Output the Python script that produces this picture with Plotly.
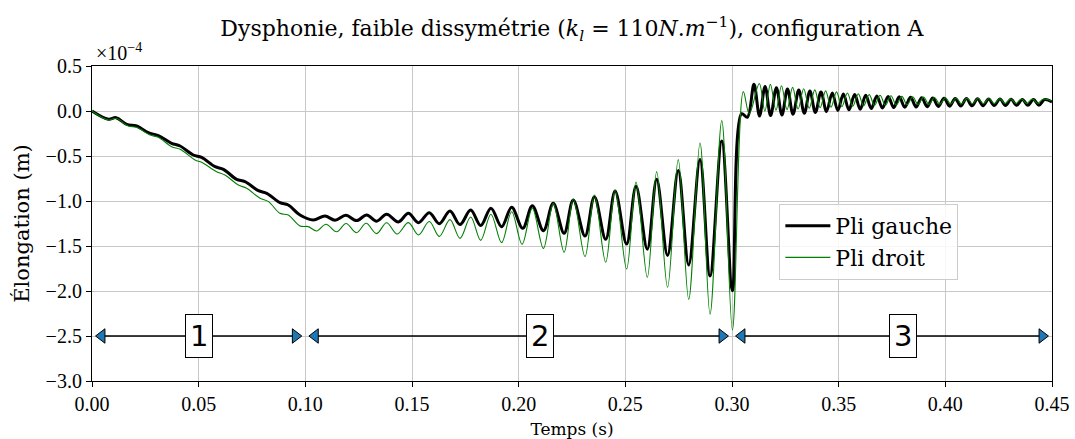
import plotly.graph_objects as go

# ---------------- data (values in units of 1e-4 m) ----------------
left_t = [
    0.0, 0.0077, 0.0113, 0.0163, 0.0209, 0.0264, 0.0311, 0.0373, 0.0413, 0.0475,
    0.0514, 0.0577, 0.0616, 0.0678, 0.0717, 0.0780, 0.0819, 0.0881, 0.0920, 0.0975,
    0.1037, 0.1092, 0.1139, 0.1190, 0.1240, 0.1288, 0.1334, 0.1381, 0.1436, 0.1483,
    0.1530, 0.1581, 0.1628, 0.1678, 0.1725, 0.1775, 0.1822, 0.1870, 0.1920, 0.1967,
    0.2019, 0.2064, 0.2116, 0.2162, 0.2213, 0.2256, 0.2311, 0.2355, 0.2408, 0.2452,
    0.2506, 0.2550, 0.2603, 0.2647, 0.2698, 0.2748, 0.2797, 0.2850, 0.2897, 0.2952,
    0.3002, 0.3045, 0.3072,
    0.3103, 0.3129, 0.3155, 0.3181, 0.3208, 0.3234, 0.3260, 0.3286, 0.3313, 0.3339,
    0.3365, 0.3391, 0.3417, 0.3443, 0.3470, 0.3496, 0.3522, 0.3548, 0.3575, 0.3601,
    0.3627, 0.3653, 0.3679, 0.3705, 0.3732, 0.3758, 0.3784, 0.3810, 0.3837, 0.3863,
    0.3889, 0.3915, 0.3941, 0.3967, 0.3994, 0.4020, 0.4046, 0.4072, 0.4099, 0.4125,
    0.4151, 0.4177, 0.4203, 0.4229, 0.4256, 0.4282, 0.4308, 0.4334, 0.4361, 0.4387,
    0.4413, 0.4439, 0.4465, 0.4500,
]
left_y = [
    0.000, -0.092, -0.074, -0.148, -0.167, -0.241, -0.274, -0.359, -0.389, -0.489,
    -0.515, -0.619, -0.648, -0.759, -0.785, -0.885, -0.915, -1.018, -1.044, -1.156,
    -1.211, -1.167, -1.213, -1.158, -1.218, -1.155, -1.224, -1.148, -1.232, -1.137,
    -1.241, -1.130, -1.252, -1.111, -1.262, -1.100, -1.272, -1.081, -1.285, -1.070,
    -1.304, -1.052, -1.330, -1.026, -1.359, -0.989, -1.389, -0.952, -1.426, -0.889,
    -1.478, -0.837, -1.535, -0.759, -1.605, -0.660, -1.711, -0.540, -1.833, -0.333,
    -1.996, -0.030, -0.070,
    0.296, -0.056, 0.272, -0.050, 0.258, -0.044, 0.245, -0.035, 0.233, -0.026,
    0.222, -0.016, 0.212, -0.005, 0.200, 0.005, 0.190, 0.013, 0.182, 0.020,
    0.175, 0.027, 0.168, 0.033, 0.162, 0.038, 0.157, 0.042, 0.152, 0.045,
    0.148, 0.048, 0.145, 0.051, 0.142, 0.053, 0.140, 0.055, 0.138, 0.057,
    0.136, 0.059, 0.134, 0.061, 0.132, 0.062, 0.130, 0.063, 0.128, 0.064,
    0.127, 0.065, 0.126, 0.100,
]

right_t = [
    0.0, 0.0077, 0.0113, 0.0170, 0.0209, 0.0272, 0.0311, 0.0373, 0.0413, 0.0483,
    0.0514, 0.0584, 0.0623, 0.0686, 0.0725, 0.0788, 0.0827, 0.0881, 0.0920, 0.0975,
    0.1014,
    0.1053, 0.1097, 0.1147, 0.1191, 0.1240, 0.1285, 0.1334, 0.1381, 0.1430, 0.1483,
    0.1530, 0.1581, 0.1628, 0.1678, 0.1725, 0.1775, 0.1822, 0.1870, 0.1920, 0.1967,
    0.2016, 0.2064, 0.2116, 0.2162, 0.2213, 0.2256, 0.2311, 0.2355, 0.2408, 0.2452,
    0.2506, 0.2550, 0.2603, 0.2647, 0.2698, 0.2748, 0.2797, 0.2850, 0.2897, 0.2952,
    0.3002, 0.3053, 0.3081,
    0.3128, 0.3154, 0.3180, 0.3206, 0.3232, 0.3258, 0.3284, 0.3310, 0.3336, 0.3362,
    0.3388, 0.3413, 0.3439, 0.3464, 0.3490, 0.3515, 0.3541, 0.3566, 0.3592, 0.3617,
    0.3643, 0.3668, 0.3694, 0.3719, 0.3745, 0.3770, 0.3796, 0.3821, 0.3847, 0.3872,
    0.3898, 0.3923, 0.3949, 0.3974, 0.4000, 0.4025, 0.4051, 0.4076, 0.4102, 0.4127,
    0.4153, 0.4178, 0.4204, 0.4229, 0.4255, 0.4280, 0.4306, 0.4331, 0.4357, 0.4382,
    0.4408, 0.4433, 0.4459, 0.4500,
]
right_y = [
    0.000, -0.100, -0.081, -0.167, -0.181, -0.267, -0.293, -0.396, -0.426, -0.544,
    -0.570, -0.674, -0.711, -0.822, -0.859, -0.970, -1.007, -1.137, -1.156, -1.278,
    -1.285,
    -1.333, -1.259, -1.341, -1.250, -1.352, -1.248, -1.362, -1.241, -1.367, -1.240,
    -1.377, -1.228, -1.393, -1.207, -1.415, -1.178, -1.437, -1.147, -1.463, -1.119,
    -1.480, -1.081, -1.526, -1.026, -1.570, -0.978, -1.619, -0.933, -1.681, -0.878,
    -1.756, -0.790, -1.848, -0.674, -1.959, -0.540, -2.093, -0.355, -2.259, -0.107,
    -2.433, 0.215, -0.030,
    0.305, 0.000, 0.296, 0.008, 0.281, 0.015, 0.262, 0.022, 0.247, 0.030,
    0.235, 0.037, 0.224, 0.043, 0.212, 0.048, 0.200, 0.053, 0.190, 0.057,
    0.182, 0.061, 0.175, 0.064, 0.169, 0.067, 0.163, 0.070, 0.158, 0.072,
    0.154, 0.074, 0.150, 0.076, 0.147, 0.078, 0.145, 0.079, 0.143, 0.080,
    0.141, 0.081, 0.139, 0.082, 0.137, 0.083, 0.135, 0.084, 0.134, 0.085,
    0.133, 0.086, 0.132, 0.110,
]

phase_bounds = [0.0, 0.10, 0.30, 0.45]
phase_labels = ["1", "2", "3"]
phase_label_t = [0.05, 0.21, 0.38]
arrow_level = -2.5

series_names = ["Pli gauche", "Pli droit"]
x_ticks = [0.00, 0.05, 0.10, 0.15, 0.20, 0.25, 0.30, 0.35, 0.40, 0.45]
y_ticks = [0.5, 0.0, -0.5, -1.0, -1.5, -2.0, -2.5, -3.0]

# ---------------- style ----------------
SERIF = "Liberation Serif"
SERIF_W = "DejaVu Serif"
SANS = "DejaVu Sans"
head_off = 0.0046
line_gap = 0.003

fig = go.Figure()
fig.add_trace(go.Scatter(x=left_t, y=left_y, mode="lines", name=series_names[0],
                         line=dict(color="black", width=3, shape="spline", smoothing=1.0)))
fig.add_trace(go.Scatter(x=right_t, y=right_y, mode="lines", name=series_names[1],
                         line=dict(color="#008000", width=1.1, shape="spline", smoothing=1.0)))

# phase arrows
ax, ay = [], []
hx, hy, hs = [], [], []
for i in range(len(phase_labels)):
    a, b = phase_bounds[i], phase_bounds[i + 1]
    ax += [a + line_gap, b - line_gap, None]
    ay += [arrow_level, arrow_level, None]
    hx += [a + head_off, b - head_off]
    hy += [arrow_level, arrow_level]
    hs += ["triangle-left", "triangle-right"]
fig.add_trace(go.Scatter(x=ax, y=ay, mode="lines", showlegend=False, hoverinfo="skip",
                         line=dict(color="black", width=1.5)))
fig.add_trace(go.Scatter(x=hx, y=hy, mode="markers", showlegend=False, hoverinfo="skip",
                         marker=dict(symbol=hs, size=12.5, color="#1f77b4",
                                     line=dict(color="black", width=1))))
for lab, t in zip(phase_labels, phase_label_t):
    fig.add_annotation(x=t, y=arrow_level, text=lab, showarrow=False,
                       font=dict(family=SANS, size=29, color="black"),
                       bgcolor="white", bordercolor="black", borderwidth=1, borderpad=4)

fig.add_annotation(xref="paper", yref="paper", x=0.002, y=1.0, xanchor="left", yanchor="bottom",
                   text="×10<sup>−4</sup>", showarrow=False,
                   font=dict(family=SERIF, size=20, color="black"))

axis_common = dict(showline=True, linecolor="black", linewidth=1.2, mirror=True,
                   showgrid=True, gridcolor="#c8c8c8", gridwidth=1,
                   ticks="outside", ticklen=5, tickcolor="black", tickwidth=1,
                   zeroline=False, automargin=False,
                   tickfont=dict(family=SERIF, size=20, color="black"))

fig.update_xaxes(range=[0, 0.45], tickvals=x_ticks, tickformat=".2f",
                 title=dict(text="Temps (s)", font=dict(family=SERIF_W, size=17, color="black"), standoff=11),
                 **axis_common)
fig.update_yaxes(range=[-3.0, 0.5], tickvals=y_ticks, tickformat=".1f",
                 title=dict(text="Élongation (m)", font=dict(family=SERIF_W, size=21, color="black"), standoff=10),
                 **axis_common)

fig.update_layout(
    width=1075, height=439,
    margin=dict(l=92, r=23, t=66, b=58),
    paper_bgcolor="white", plot_bgcolor="white",
    title=dict(text="Dysphonie, faible dissymétrie (<i>k<sub>l</sub></i> = 110<i>N</i>.<i>m</i><sup>−1</sup>), configuration A",
               x=0.532, xanchor="center", y=0.935, yanchor="middle", yref="container",
               font=dict(family=SERIF_W, size=22, color="black")),
    legend=dict(x=0.716, y=0.562, xanchor="left", yanchor="top",
                bgcolor="rgba(255,255,255,0.85)", bordercolor="#cccccc", borderwidth=1,
                font=dict(family=SERIF_W, size=22, color="black"), tracegroupgap=0,
                itemwidth=45),
    showlegend=True,
)

fig.write_html("out.html")
